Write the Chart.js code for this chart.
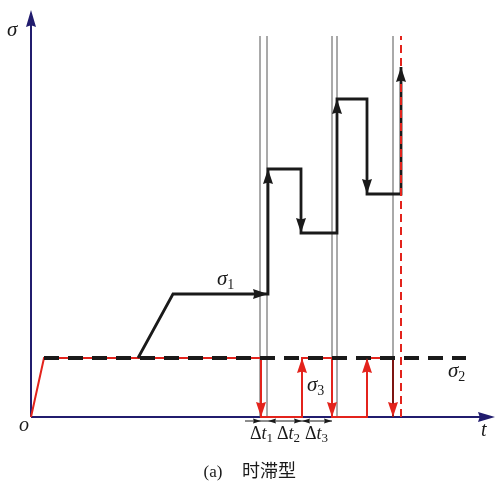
<!DOCTYPE html>
<html>
<head>
<meta charset="utf-8">
<script src="https://cdn.jsdelivr.net/npm/chart.js@4.4.1/dist/chart.umd.min.js"></script>
<style>
  html, body { margin: 0; padding: 0; background: #fff; }
  #wrap { position: relative; width: 497px; height: 483px; }
</style>
</head>
<body>
<div id="wrap"><canvas id="lag-chart"></canvas></div>
<script>
// t measured from the origin, sigma up from the t axis
const guideTimes = [229, 236, 301, 306, 362];
const guideTop = 381;
const failTime = 370;

const sigma1T = [107, 142, 237, 237, 270, 270, 306, 306, 336, 336, 370, 370];
const sigma1V = [59, 123, 123, 248, 248, 184, 184, 318, 318, 223, 223, 350];
const sigma1Arrows = [2, 3, 5, 7, 9, 11];

const sigma2T = [13, 435];
const sigma2V = [59, 59];

const sigma3T = [0, 13, 230, 230, 271, 271, 301, 301, 336, 336, 362, 362];
const sigma3V = [0, 59, 59, 0, 0, 59, 59, 0, 0, 59, 59, 0];
const sigma3Arrows = [3, 5, 7, 9, 11];

const dtStart = 214, dtEnd = 301;
const dtMarks = [[230, 1], [237, -1], [271, 1], [271, -1], [301, 1]];
const dtLabels = [["1", 219], ["2", 246], ["3", 274]];

const tMax = 466, sigmaMax = 407;
const AXIS = "#211c6e", RED = "#e3231c", BLACK = "#1a1a1a";

const pts = (ts, vs) => ts.map((t, i) => ({ x: t, y: vs[i] }));

function arrowHead(ctx, x1, y1, x2, y2, len, hw, color) {
  const a = Math.atan2(y2 - y1, x2 - x1);
  ctx.save();
  ctx.translate(x2, y2);
  ctx.rotate(a);
  ctx.fillStyle = color;
  ctx.beginPath();
  ctx.moveTo(0, 0);
  ctx.lineTo(-len, -hw);
  ctx.lineTo(-len * 0.9, 0);
  ctx.lineTo(-len, hw);
  ctx.closePath();
  ctx.fill();
  ctx.restore();
}

function sigmaLabel(ctx, x, y, sub) {
  ctx.font = "italic 21px 'Liberation Serif'";
  ctx.textBaseline = "alphabetic";
  ctx.textAlign = "left";
  ctx.fillStyle = BLACK;
  ctx.fillText("σ", x, y);
  const w = ctx.measureText("σ").width;
  if (sub) {
    ctx.font = "14px 'Liberation Serif'";
    ctx.fillText(sub, x + w, y + 4);
  }
}

const schemePlugin = {
  id: "scheme",
  beforeDatasetsDraw(chart) {
    const ctx = chart.ctx, xs = chart.scales.x, ys = chart.scales.y;
    const x0 = xs.getPixelForValue(0), y0 = ys.getPixelForValue(0);
    const xe = xs.getPixelForValue(tMax), ye = ys.getPixelForValue(sigmaMax);
    ctx.save();
    ctx.strokeStyle = AXIS;
    ctx.lineWidth = 2;
    ctx.beginPath();
    ctx.moveTo(x0, y0); ctx.lineTo(xe - 8, y0);
    ctx.moveTo(x0, y0); ctx.lineTo(x0, ye + 8);
    ctx.stroke();
    arrowHead(ctx, x0, y0, xe - 2, y0, 17, 5, AXIS);
    arrowHead(ctx, x0, y0, x0, ye, 17, 5, AXIS);
    ctx.restore();
  },
  afterDatasetsDraw(chart) {
    const ctx = chart.ctx, xs = chart.scales.x, ys = chart.scales.y;
    const X = t => xs.getPixelForValue(t), Y = v => ys.getPixelForValue(v);
    ctx.save();
    sigma1Arrows.forEach(i => arrowHead(ctx, X(sigma1T[i - 1]), Y(sigma1V[i - 1]), X(sigma1T[i]), Y(sigma1V[i]), 15, 5, BLACK));
    sigma3Arrows.forEach(i => arrowHead(ctx, X(sigma3T[i - 1]), Y(sigma3V[i - 1]), X(sigma3T[i]), Y(sigma3V[i]), 15, 5, RED));

    // delta t dimension line
    const yd = Y(0) + 4;
    ctx.strokeStyle = BLACK;
    ctx.lineWidth = 1;
    ctx.beginPath();
    ctx.moveTo(X(dtStart), yd); ctx.lineTo(X(dtEnd), yd);
    ctx.stroke();
    dtMarks.forEach(([t, d]) => arrowHead(ctx, X(t) - d * 8, yd, X(t), yd, 8, 2.5, BLACK));

    dtLabels.forEach(([sub, t]) => {
      let x = X(t);
      const y = Y(0) + 22;
      ctx.fillStyle = BLACK;
      ctx.textAlign = "left";
      ctx.textBaseline = "alphabetic";
      ctx.font = "18px 'Liberation Serif'";
      ctx.fillText("Δ", x, y);
      x += ctx.measureText("Δ").width;
      ctx.font = "italic 18px 'Liberation Serif'";
      ctx.fillText("t", x, y);
      x += ctx.measureText("t").width;
      ctx.font = "13px 'Liberation Serif'";
      ctx.fillText(sub, x, y + 3);
    });

    sigmaLabel(ctx, X(186), Y(132), "1");
    sigmaLabel(ctx, X(417), Y(40), "2");
    sigmaLabel(ctx, X(276), Y(26), "3");
    sigmaLabel(ctx, X(-24), Y(381), "");

    ctx.font = "italic 20px 'Liberation Serif'";
    ctx.fillStyle = BLACK;
    ctx.fillText("o", X(-12), Y(0) + 14);
    ctx.fillText("t", X(450), Y(0) + 19);

    ctx.textAlign = "center";
    ctx.font = "17px 'Liberation Serif'";
    ctx.fillText("(a)", X(182), Y(0) + 60);
    ctx.font = "18px 'Noto Sans CJK SC'";
    ctx.fillText("时滞型", X(238), Y(0) + 60);
    ctx.restore();
  }
};

const guideSets = guideTimes.map(t => ({
  data: pts([t, t], [0, guideTop]),
  borderColor: "#555",
  borderWidth: 1,
  order: 6
}));

const config = {
  type: "scatter",
  data: {
    datasets: [
      ...guideSets,
      {
        data: pts(sigma3T, sigma3V),
        borderColor: RED,
        borderWidth: 2,
        segment: { borderColor: c => c.p1DataIndex === sigma3T.length - 1 ? "#7d1512" : RED },
        order: 4
      },
      {
        data: pts(sigma2T, sigma2V),
        borderColor: BLACK,
        borderWidth: 4,
        borderDash: [15, 9],
        order: 3
      },
      {
        data: pts(sigma1T, sigma1V),
        borderColor: BLACK,
        borderWidth: 2.8,
        borderJoinStyle: "miter",
        order: 2
      },
      {
        data: pts([failTime, failTime], [0, guideTop]),
        borderColor: RED,
        borderWidth: 2,
        borderDash: [8, 5],
        order: 1
      }
    ]
  },
  options: {
    responsive: true,
    maintainAspectRatio: false,
    animation: false,
    showLine: true,
    elements: { point: { radius: 0, hoverRadius: 0 }, line: { tension: 0 } },
    datasets: { scatter: { clip: false } },
    layout: { padding: { left: 31, right: 0, top: 10, bottom: 66 } },
    plugins: { legend: { display: false }, tooltip: { enabled: false } },
    scales: {
      x: { type: "linear", min: 0, max: tMax, display: false },
      y: { type: "linear", min: 0, max: sigmaMax, display: false }
    }
  },
  plugins: [schemePlugin]
};

new Chart(document.getElementById("lag-chart").getContext("2d"), config);
</script>
</body>
</html>
